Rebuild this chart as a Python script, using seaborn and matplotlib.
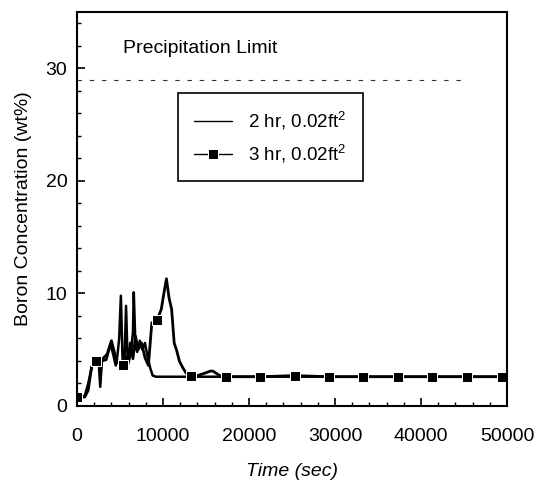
import numpy as np
import matplotlib
matplotlib.use("Agg")
import matplotlib.pyplot as plt
from matplotlib.ticker import MultipleLocator
import seaborn as sns

# datos
t_2hr = [0, 900, 1300, 1700, 2100, 2500, 2700, 2900, 3400, 3900, 4200, 4500, 4700, 4900,
         5100, 5300, 5500, 5700, 5900, 6100, 6300, 6500, 6600, 6800, 7000, 7300, 7600,
         7900, 8200, 8500, 8800, 9200, 12000, 20000, 30000, 40000, 50000]
b_2hr = [0.8, 0.9, 2.0, 3.4, 4.2, 4.1, 1.7, 4.0, 4.1, 5.5, 4.6, 3.6, 4.5, 6.0,
         9.8, 4.0, 3.4, 8.9, 3.6, 4.2, 5.0, 6.5, 10.1, 5.2, 4.8, 5.8, 5.0,
         5.6, 4.4, 3.4, 2.7, 2.6, 2.6, 2.6, 2.6, 2.6, 2.6]

t_3hr = [0, 900, 1300, 1700, 2200, 2600, 3000, 3500, 4000, 4400, 4800, 5300, 5600, 5900,
         6200, 6500, 6800, 7100, 7500, 7900, 8300, 8700, 9300, 9800, 10100, 10400, 10700,
         11000, 11300, 11600, 11900, 12300, 12700, 13300, 14000, 14800, 15500, 15800,
         16600, 17300, 21300, 25300, 29300, 33300, 37300, 41300, 45300, 49400, 50000]
b_3hr = [0.8, 0.8, 1.4, 3.5, 4.0, 4.0, 4.2, 4.6, 5.8, 4.6, 3.8, 3.6, 4.4, 3.9,
         5.6, 4.2, 6.2, 5.0, 5.6, 4.3, 3.6, 7.4, 7.6, 8.6, 10.0, 11.3, 9.6,
         8.6, 5.6, 4.9, 4.0, 3.4, 2.9, 2.7, 2.7, 2.9, 3.1, 3.1,
         2.7, 2.6, 2.6, 2.7, 2.6, 2.6, 2.6, 2.6, 2.6, 2.6, 2.6]
t_marcas = [0, 2200, 5300, 9300, 13300, 17300, 21300, 25300, 29300, 33300,
            37300, 41300, 45300, 49400]

limite = 29
t_limite = [0, 45000]

sns.set_style("ticks")
plt.rcParams["font.family"] = ["Liberation Sans", "DejaVu Sans"]
plt.rcParams["mathtext.fontset"] = "custom"
plt.rcParams["mathtext.rm"] = "Liberation Sans"
plt.rcParams["text.color"] = "black"
plt.rcParams["axes.labelcolor"] = "black"
plt.rcParams["xtick.color"] = "black"
plt.rcParams["ytick.color"] = "black"

fig = plt.figure(figsize=(5.36, 4.82), dpi=100)
ax = fig.add_axes([0.1437, 0.1577, 0.8022, 0.8174])

sns.lineplot(x=t_2hr, y=b_2hr, ax=ax, color="black", linewidth=1.8, sort=False)
sns.lineplot(x=t_3hr, y=b_3hr, ax=ax, color="black", linewidth=2.0, sort=False)
l2, l3 = ax.lines[0], ax.lines[1]
l3.set_marker("s")
l3.set_markersize(7)
l3.set_markevery([t_3hr.index(m) for m in t_marcas])

ax.plot(t_limite, [limite, limite], color="#333333", linewidth=0.8, dashes=(4, 7))
ax.text(5300, 31.8, "Precipitation Limit", fontsize=14, va="center")

ax.set_xlim(0, 50000)
ax.set_ylim(0, 35)
ax.xaxis.set_major_locator(MultipleLocator(10000))
ax.xaxis.set_minor_locator(MultipleLocator(2000))
ax.yaxis.set_major_locator(MultipleLocator(10))
ax.yaxis.set_minor_locator(MultipleLocator(2))
ax.tick_params(which="major", direction="in", length=6, width=1.2, labelsize=14)
ax.tick_params(axis="x", which="major", pad=16)
ax.tick_params(axis="y", which="major", pad=7)
ax.tick_params(which="minor", direction="in", length=3, width=1.0)
for s in ax.spines.values():
    s.set_linewidth(1.5)
    s.set_color("black")

ax.set_xlabel("Time (sec)", fontsize=14, style="italic", labelpad=13)
ax.set_ylabel("Boron Concentration (wt%)", fontsize=14, labelpad=10)

leg = ax.legend([l2, l3], ["2 hr, 0.02ft$^2$", "3 hr, 0.02ft$^2$"],
                loc="upper left", bbox_to_anchor=(0.235, 0.794), borderaxespad=0,
                fontsize=13.5, frameon=True, fancybox=False, edgecolor="black",
                framealpha=1, handlelength=2.0, handletextpad=0.9,
                labelspacing=0.55, borderpad=0.85)
leg.get_frame().set_linewidth(1.2)
for h in leg.get_lines():
    h.set_linewidth(1.0)

plt.savefig("out.png", dpi=100)
